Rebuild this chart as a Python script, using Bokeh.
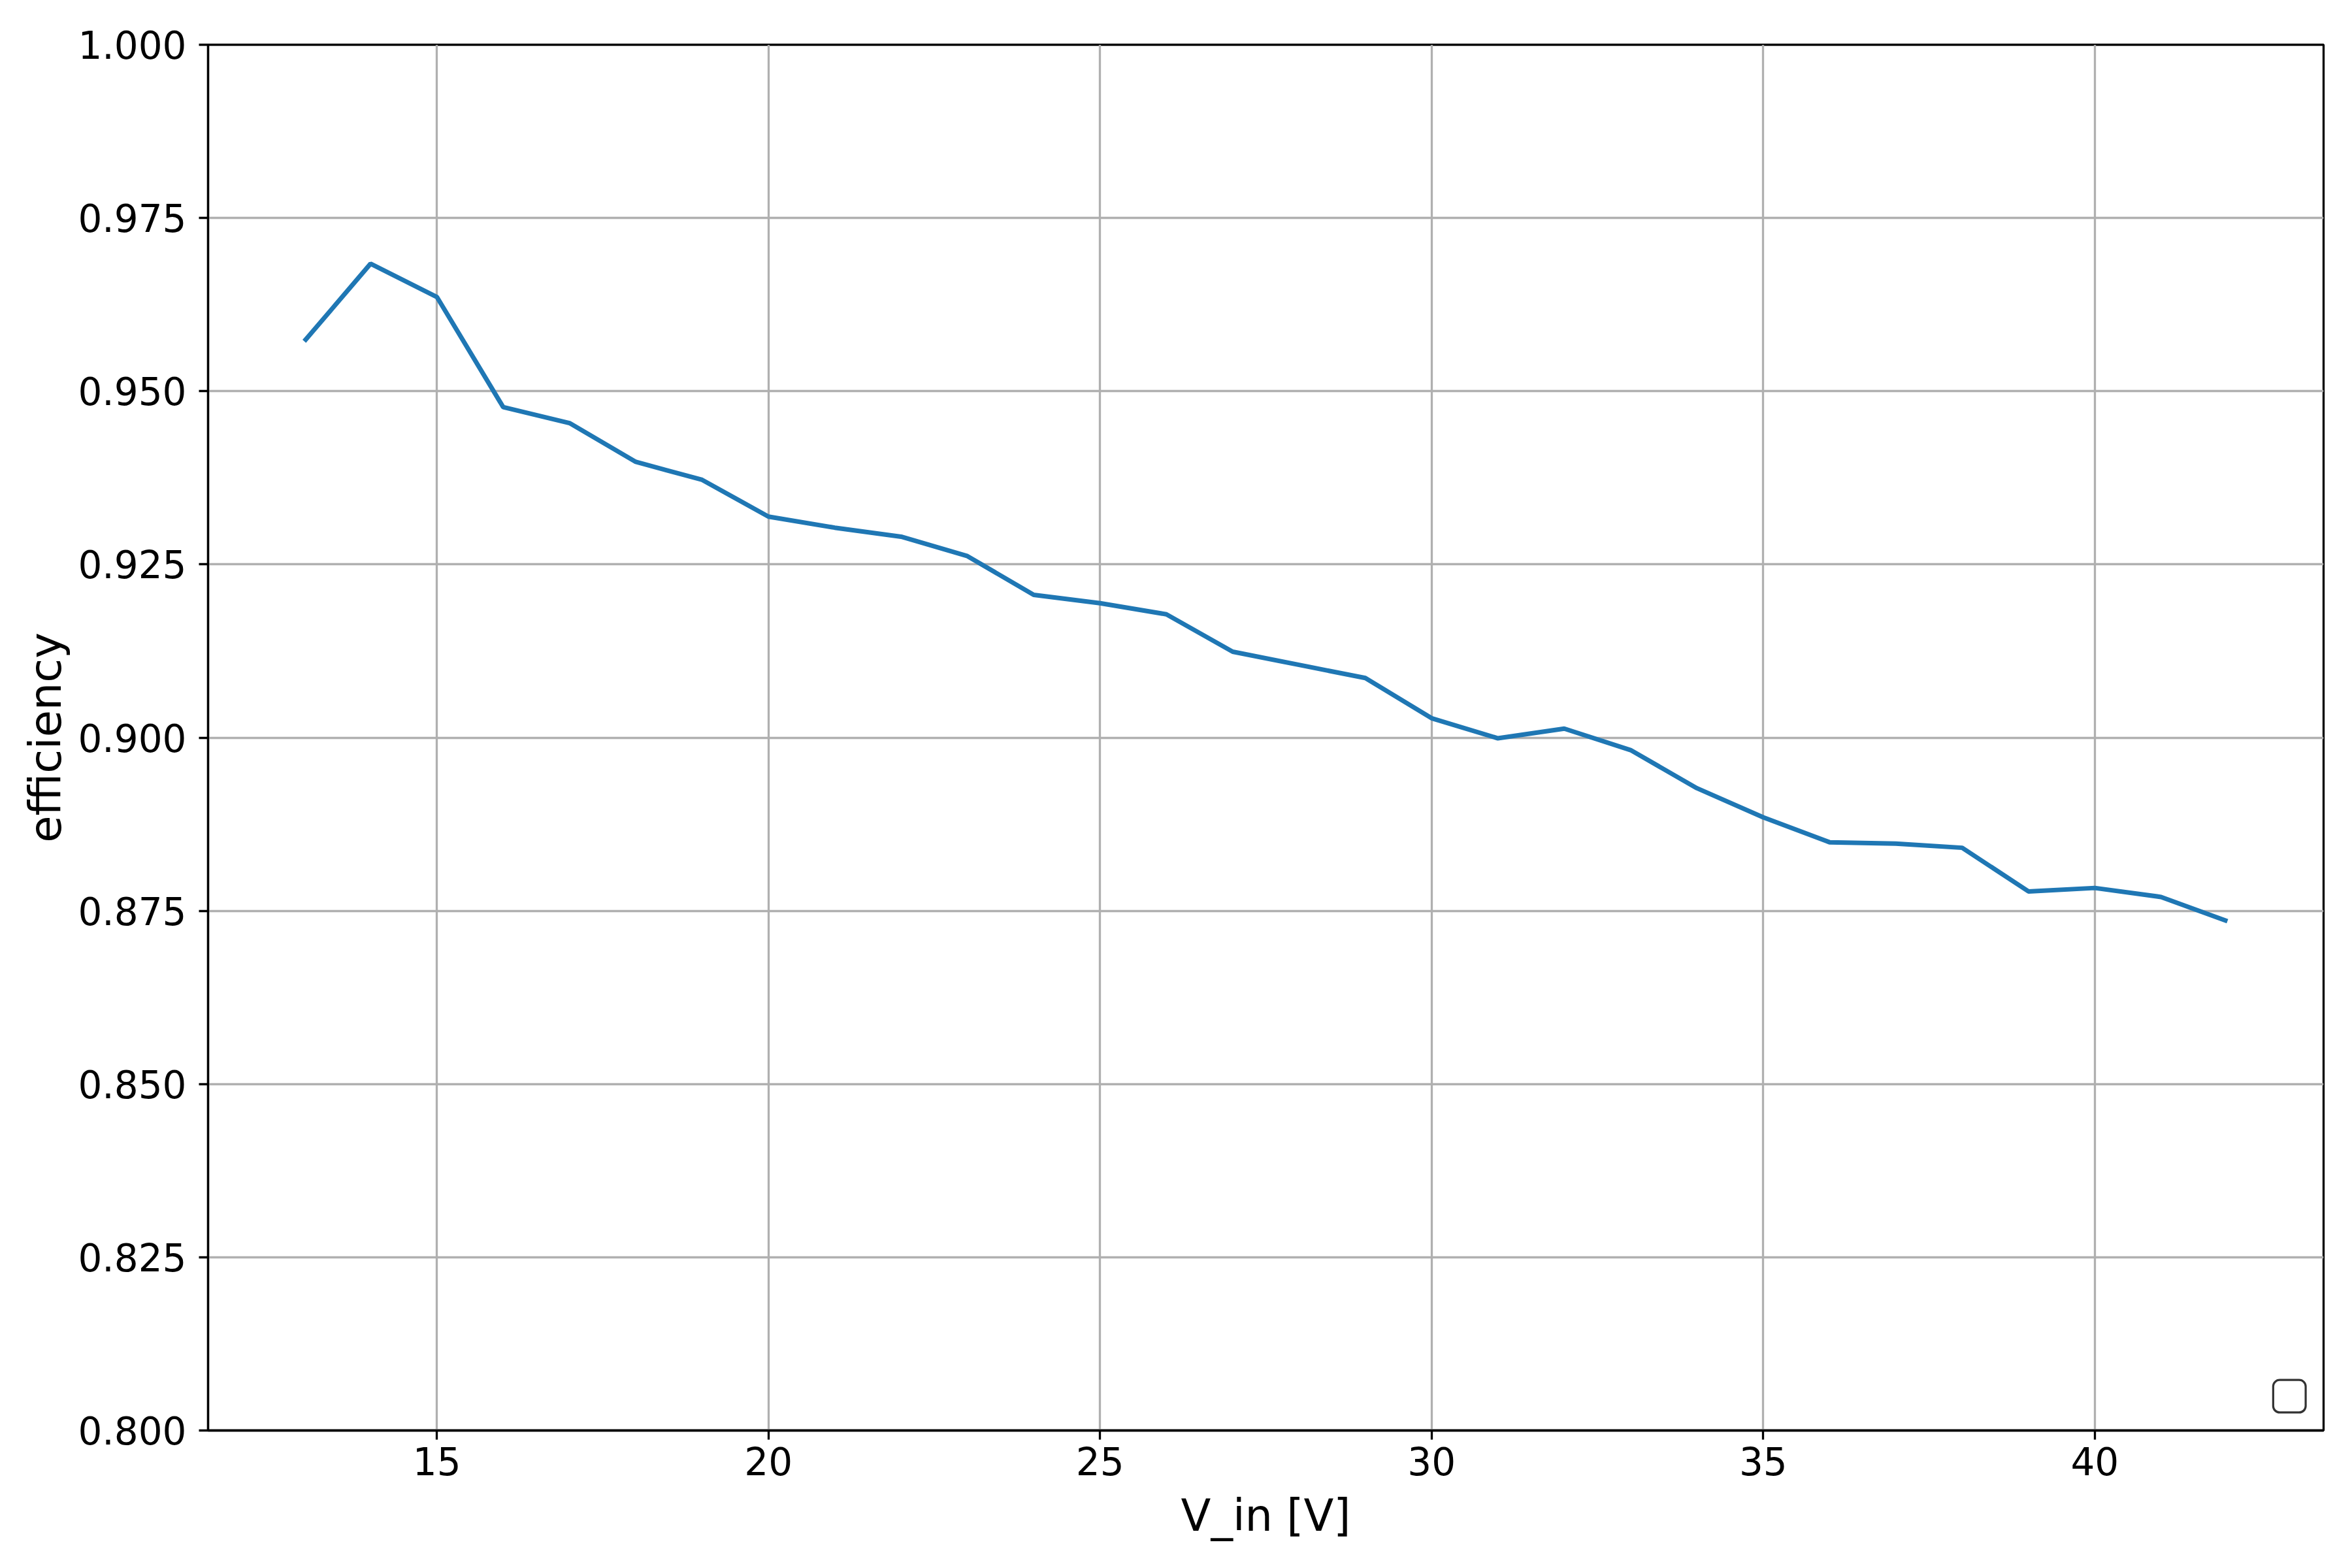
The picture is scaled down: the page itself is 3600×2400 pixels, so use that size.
from bokeh.plotting import figure
from bokeh.models import Range1d, FixedTicker, PrintfTickFormatter, BoxAnnotation
from bokeh.embed import file_html
from bokeh.resources import INLINE

# ---- data ----
v_in = [13, 14, 15, 16, 17, 18, 19, 20, 21, 22, 23, 24, 25, 26, 27,
        28, 29, 30, 31, 32, 33, 34, 35, 36, 37, 38, 39, 40, 41, 42]
efficiency = [0.9572, 0.9684, 0.9636, 0.9477, 0.9454, 0.9398, 0.9372, 0.9319,
              0.9303, 0.9290, 0.9262, 0.9206, 0.9194, 0.9178, 0.9124, 0.9105,
              0.9086, 0.9028, 0.8999, 0.9013, 0.8982, 0.8927, 0.8885, 0.8849,
              0.8847, 0.8841, 0.8778, 0.8783, 0.8770, 0.8735]
x_ticks = [15, 20, 25, 30, 35, 40]
y_ticks = [0.800, 0.825, 0.850, 0.875, 0.900, 0.925, 0.950, 0.975, 1.000]
x_label = "V_in [V]"
y_label = "efficiency"

FONT = "DejaVu Sans"
LW = 3.3

x_span = max(v_in) - min(v_in)
p = figure(width=3584, height=2384, output_backend="svg", toolbar_location=None,
           x_range=Range1d(min(v_in) - 0.05 * x_span, max(v_in) + 0.05 * x_span),
           y_range=Range1d(0.8, 1.0),
           min_border_left=318, min_border_right=28, min_border_top=68, min_border_bottom=195)
p.background_fill_color = "white"
p.border_fill_color = "white"
p.outline_line_color = "black"
p.outline_line_width = LW
p.outline_line_alpha = 1.0

p.line(v_in, efficiency, line_color="#1f77b4", line_width=7)

# empty legend frame (matplotlib draws one with no entries)
p.add_layout(BoxAnnotation(left=42.69, right=43.18, bottom=0.8026, top=0.8073,
                           fill_color="white", fill_alpha=1.0,
                           line_color="#333333", line_alpha=1.0, line_width=3.2,
                           border_radius=10))

for ax in (p.xaxis[0], p.yaxis[0]):
    ax.axis_line_color = "black"
    ax.axis_line_width = LW
    ax.major_tick_line_color = "black"
    ax.major_tick_line_width = LW
    ax.major_tick_out = 14
    ax.major_tick_in = 0
    ax.minor_tick_line_color = None
    ax.major_label_text_font = FONT
    ax.major_label_text_font_size = "58px"
    ax.major_label_text_color = "black"
    ax.axis_label_text_font = FONT
    ax.axis_label_text_font_size = "67px"
    ax.axis_label_text_font_style = "normal"
    ax.axis_label_text_color = "black"

p.xaxis.ticker = FixedTicker(ticks=x_ticks)
p.yaxis.ticker = FixedTicker(ticks=y_ticks)
p.yaxis.formatter = PrintfTickFormatter(format="%.3f")
p.xaxis.axis_label = x_label
p.yaxis.axis_label = y_label
p.xaxis.major_label_standoff = 11
p.yaxis.major_label_standoff = 19
p.xaxis.axis_label_standoff = 20
p.yaxis.axis_label_standoff = 7

for g in (p.xgrid[0], p.ygrid[0]):
    g.grid_line_color = "#b0b0b0"
    g.grid_line_width = LW
    g.grid_line_alpha = 1.0
p.xgrid.ticker = FixedTicker(ticks=x_ticks)
p.ygrid.ticker = FixedTicker(ticks=y_ticks)

open("out.html", "w").write(file_html(p, INLINE))
